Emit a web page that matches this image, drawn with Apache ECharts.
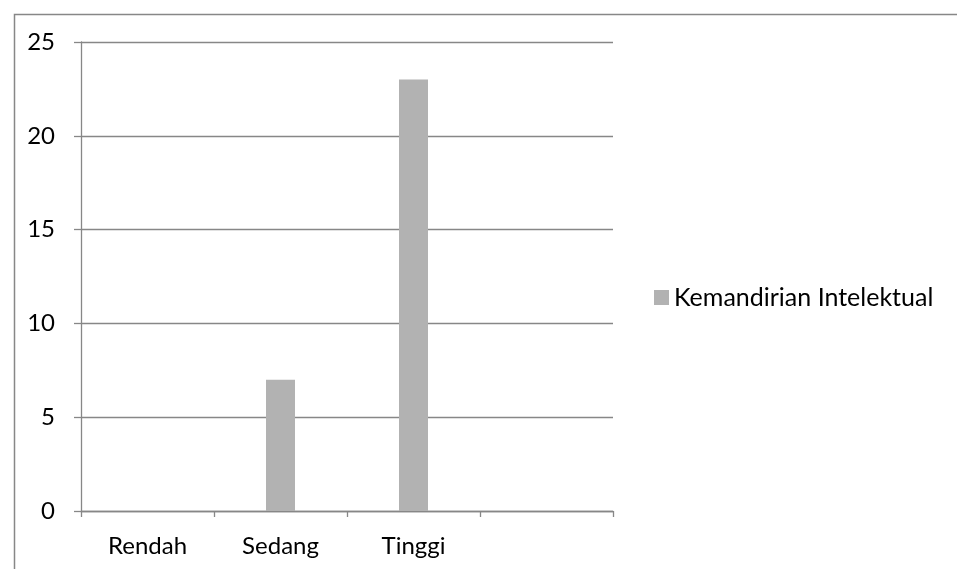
<!DOCTYPE html>
<html>
<head>
<meta charset="utf-8">
<script src="https://cdn.jsdelivr.net/npm/echarts@6/dist/echarts.min.js"></script>
<style>
  html, body { margin: 0; padding: 0; background: #fff; }
  #chart { width: 957px; height: 569px; }
</style>
</head>
<body>
<div id="chart"></div>
<script>
// Levels of intellectual independence (the last slot is left empty)
const categories = ['Rendah', 'Sedang', 'Tinggi', ''];
const seriesName = 'Kemandirian Intelektual';
const values = [0, 7, 23, null];
const yTicks = [0, 5, 10, 15, 20, 25];

const axisGrey = '#878787';
const barGrey = '#b2b2b2';
const fontFamily = 'Lato, "Open Sans", sans-serif';
const fontSize = 24;

const chart = echarts.init(document.getElementById('chart'), null, { renderer: 'canvas' });

chart.setOption({
  animation: false,
  backgroundColor: '#ffffff',
  textStyle: { fontFamily: fontFamily, color: '#000' },
  graphic: [{
    type: 'rect',
    left: 12, top: 12,
    shape: { width: 1000, height: 600 },
    style: { fill: 'none', stroke: axisGrey, lineWidth: 1.5 },
    silent: true,
    z: -1
  }],
  grid: { left: 81, right: 344, top: 42, bottom: 58 },
  legend: {
    data: [seriesName],
    left: 649,
    top: 280,
    itemWidth: 15,
    itemHeight: 15,
    itemGap: 6,
    icon: 'rect',
    textStyle: { fontFamily: fontFamily, fontSize: 25, color: '#000', padding: [0, 0, 0, 0] }
  },
  xAxis: {
    type: 'category',
    data: categories,
    boundaryGap: true,
    axisLine: { lineStyle: { color: axisGrey, width: 1.3 } },
    axisTick: { show: true, length: 6, lineStyle: { color: axisGrey, width: 1.3 } },
    axisLabel: { fontFamily: fontFamily, fontSize: fontSize, color: '#000', margin: 23 },
    splitLine: { show: false }
  },
  yAxis: {
    type: 'value',
    min: yTicks[0],
    max: yTicks[yTicks.length - 1],
    interval: 5,
    axisLine: { show: true, lineStyle: { color: axisGrey, width: 1.3 } },
    axisTick: { show: true, length: 7, lineStyle: { color: axisGrey, width: 1.3 } },
    axisLabel: { fontFamily: fontFamily, fontSize: fontSize, color: '#000', margin: 26 },
    splitLine: { show: true, lineStyle: { color: axisGrey, width: 1.3 } }
  },
  series: [{
    name: seriesName,
    type: 'bar',
    data: values,
    barWidth: 29,
    itemStyle: { color: barGrey }
  }]
});
</script>
</body>
</html>
